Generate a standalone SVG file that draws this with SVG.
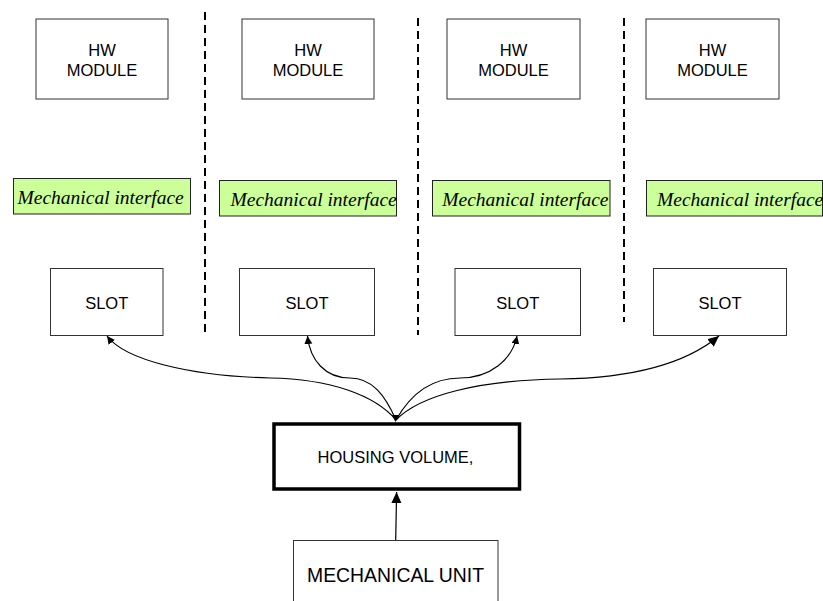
<svg xmlns="http://www.w3.org/2000/svg" width="823" height="601" viewBox="0 0 823 601">
<style>
.box{fill:#fff;stroke:#333;stroke-width:1}
.mi{fill:#ccff99;stroke:#222;stroke-width:1}
.t{font-family:"Liberation Sans",Arial,sans-serif;font-size:16.5px;fill:#000;text-anchor:middle}
.it{font-family:"Liberation Serif","Times New Roman",serif;font-style:italic;font-size:19.5px;fill:#000}
.sep{stroke:#000;stroke-width:2;stroke-dasharray:8 5;fill:none}
.c{fill:none;stroke:#000;stroke-width:1.2}
</style>
<defs>
<marker id="sm" markerUnits="userSpaceOnUse" markerWidth="10" markerHeight="10" refX="8" refY="4" orient="auto"><path d="M0,0 L8,4 L0,8 z" fill="#000"/></marker>
<marker id="lg" markerUnits="userSpaceOnUse" markerWidth="14" markerHeight="14" refX="11" refY="5" orient="auto"><path d="M0,0 L11,5 L0,10 z" fill="#000"/></marker>
<clipPath id="cl4"><rect x="646" y="180" width="177" height="36"/></clipPath>
</defs>
<g id="separators">
<line class="sep" x1="205" y1="12" x2="205" y2="336"/>
<line class="sep" x1="418" y1="18" x2="418" y2="335"/>
<line class="sep" x1="624" y1="18" x2="624" y2="322"/>
</g>
<g id="hw1"><rect class="box" x="36" y="19" width="132" height="80"/><text class="t" x="102" y="56">HW</text><text class="t" x="102" y="76">MODULE</text></g>
<g id="hw2"><rect class="box" x="242" y="19" width="132" height="80"/><text class="t" x="308" y="56">HW</text><text class="t" x="308" y="76">MODULE</text></g>
<g id="hw3"><rect class="box" x="447" y="19" width="133" height="80"/><text class="t" x="513.5" y="56">HW</text><text class="t" x="513.5" y="76">MODULE</text></g>
<g id="hw4"><rect class="box" x="646" y="19" width="133" height="80"/><text class="t" x="712.5" y="56">HW</text><text class="t" x="712.5" y="76">MODULE</text></g>
<g id="mi1"><rect class="mi" x="13.5" y="178.5" width="177" height="35.5"/><text class="it" x="17.5" y="204">Mechanical interface</text></g>
<g id="mi2"><rect class="mi" x="219.5" y="180.5" width="177" height="35.5"/><text class="it" x="230.5" y="206">Mechanical interface</text></g>
<g id="mi3"><rect class="mi" x="432.5" y="180.5" width="177.5" height="35.5"/><text class="it" x="442.3" y="206">Mechanical interface</text></g>
<g id="mi4"><rect class="mi" x="646.5" y="180.5" width="176" height="35.5"/><text class="it" x="657" y="206" clip-path="url(#cl4)">Mechanical interface</text></g>
<g id="slot1"><rect class="box" x="50.5" y="268.5" width="112.5" height="67"/><text class="t" x="106.7" y="309">SLOT</text></g>
<g id="slot2"><rect class="box" x="239.5" y="268.5" width="135" height="67"/><text class="t" x="307" y="309">SLOT</text></g>
<g id="slot3"><rect class="box" x="455" y="268.5" width="125.5" height="67"/><text class="t" x="517.7" y="309">SLOT</text></g>
<g id="slot4"><rect class="box" x="653.5" y="268.5" width="133" height="67"/><text class="t" x="720" y="309">SLOT</text></g>
<g id="housing"><rect x="274" y="424" width="245.5" height="65" fill="#fff" stroke="#000" stroke-width="3.5"/><text class="t" x="395.5" y="463">HOUSING VOLUME,</text></g>
<g id="mechunit"><rect class="box" x="293.5" y="540.5" width="204.5" height="64"/><text class="t" x="395.5" y="582" style="font-size:19.5px" textLength="177" lengthAdjust="spacingAndGlyphs">MECHANICAL UNIT</text></g>
<g id="connectors">
<path class="c" d="M396,420 C375,395 330,379 270,378 C190,376 125,360 107,336" marker-end="url(#sm)"/>
<path class="c" d="M396,420 C385,395 372,378 350,378 C325,378 310,360 307.5,336" marker-end="url(#sm)"/>
<path class="c" d="M396,420 C410,395 430,378 460,378 C490,378 512,360 517,336" marker-end="url(#sm)"/>
<path class="c" d="M396,420 C420,395 480,380 560,379 C640,378 690,360 719,336" marker-end="url(#lg)"/>
<path d="M392,415 L399,415 L395.5,422 z" fill="#000"/>
<line class="c" x1="395.7" y1="540" x2="396.6" y2="492" marker-end="url(#lg)"/>
</g>
</svg>
